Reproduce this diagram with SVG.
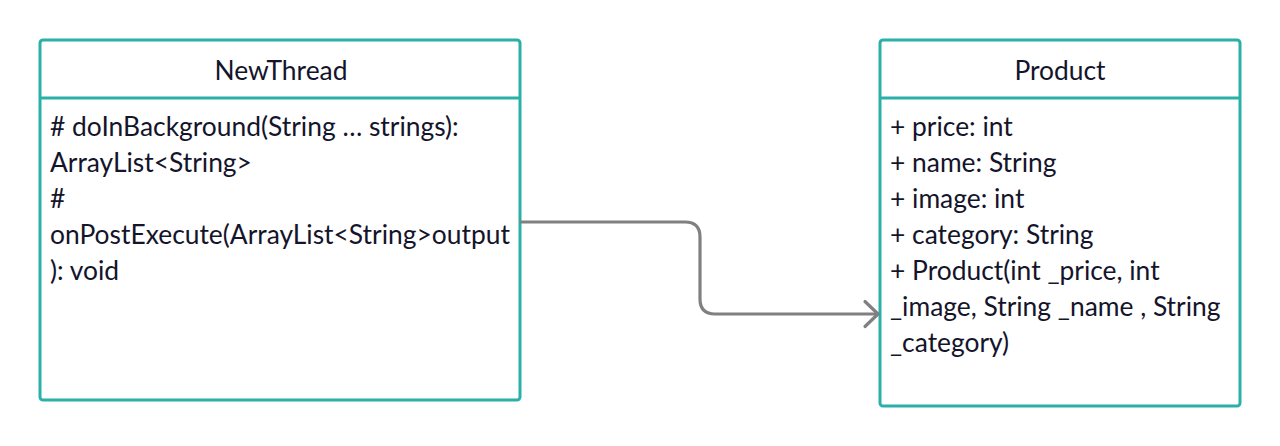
<svg xmlns="http://www.w3.org/2000/svg" width="1280" height="446" viewBox="0 0 1280 446">
<style>
.box{fill:#fff;stroke:#2aafa9;stroke-width:3}
.div{stroke:#2aafa9;stroke-width:3}
text{font-family:Lato,"Noto Sans",sans-serif;font-size:26.4px;fill:#14142b}
.t{text-anchor:middle}
.conn{fill:none;stroke:#808080;stroke-width:3.2;stroke-linecap:round;stroke-linejoin:round}
</style>
<defs>
<marker id="arr" markerWidth="30" markerHeight="30" refX="16" refY="15" orient="auto" markerUnits="userSpaceOnUse">
<path d="M3,2.5 L16,15 L3,27.5" fill="none" stroke="#808080" stroke-width="3.2" stroke-linecap="round" stroke-linejoin="round"/>
</marker>
</defs>
<g id="NewThread">
<rect class="box" x="40" y="40" width="480" height="360" rx="3"/>
<line class="div" x1="40" y1="98" x2="520" y2="98"/>
<text class="t" x="281" y="80">NewThread</text>
<text x="50" y="136"># doInBackground(String … strings):</text>
<text x="50" y="172">ArrayList&lt;String&gt;</text>
<text x="50" y="208">#</text>
<text x="50" y="244">onPostExecute(ArrayList&lt;String&gt;output</text>
<text x="50" y="280">): void</text>
</g>
<g id="Product">
<rect class="box" x="880" y="40" width="360" height="366" rx="3"/>
<line class="div" x1="880" y1="98" x2="1240" y2="98"/>
<text class="t" x="1060" y="80">Product</text>
<text x="890" y="136">+ price: int</text>
<text x="890" y="172">+ name: String</text>
<text x="890" y="208">+ image: int</text>
<text x="890" y="244">+ category: String</text>
<text x="890" y="280">+ Product(int _price, int</text>
<text x="890" y="316">_image, String _name , String</text>
<text x="890" y="352">_category)</text>
</g>
<g id="connectors">
<path class="conn" d="M521,222 H685 Q700,222 700,237 V299 Q700,314 715,314 H878" marker-end="url(#arr)"/>
</g>
</svg>
